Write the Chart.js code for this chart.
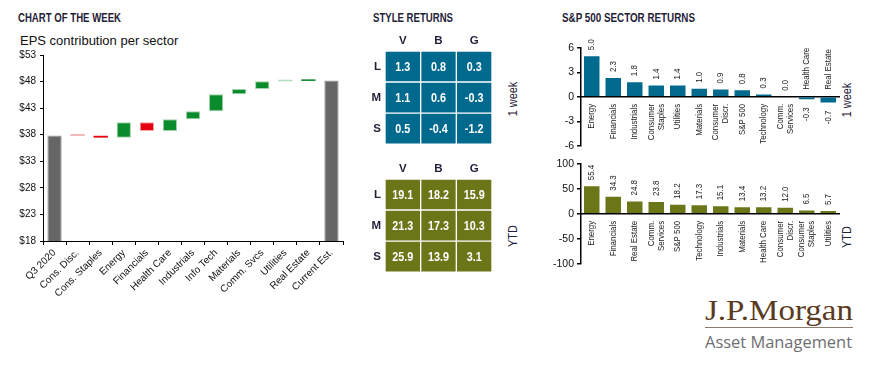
<!DOCTYPE html>
<html><head><meta charset="utf-8">
<script src="https://cdn.jsdelivr.net/npm/chart.js@4.4.1/dist/chart.umd.min.js"></script>
<style>
body{margin:0;width:879px;height:376px;background:#fff;position:relative;overflow:hidden;font-family:'Liberation Sans',Arial,sans-serif}
.abs{position:absolute;white-space:nowrap}
.hdr{font-family:'Liberation Sans',Arial,sans-serif;font-weight:bold;font-size:12px;color:#1f2238;line-height:12px;transform-origin:0 0}
.side{font-family:'Liberation Sans',Arial,sans-serif;font-size:13px;color:#1f2238;transform:translate(-50%,-50%) rotate(-90deg) scaleX(0.84);line-height:14px}
canvas{position:absolute}
</style></head>
<body>
<div id="h1" class="abs hdr" style="left:18px;top:12px">CHART OF THE WEEK</div>
<div class="abs" style="left:20px;top:33px;font-size:13px;color:#111;line-height:15px">EPS contribution per sector</div>
<div id="h2" class="abs hdr" style="left:373px;top:12px">STYLE RETURNS</div>
<div id="h3" class="abs hdr" style="left:562px;top:12px">S&amp;P 500 SECTOR RETURNS</div>
<div class="abs side" style="left:513px;top:99px">1 week</div>
<div class="abs side" style="left:513px;top:236px">YTD</div>
<div class="abs side" style="left:847px;top:100px">1 week</div>
<div class="abs side" style="left:847px;top:237px">YTD</div>
<div id="logo1" class="abs" style="left:705px;top:294px;font-family:'Liberation Serif','DejaVu Serif',serif;font-size:29px;color:#5a3b1e;line-height:32px;transform-origin:0 0">J.P.Morgan</div>
<div class="abs" style="left:705px;top:327px;width:148px;height:1px;background:#8c7b6b"></div>
<div id="logo2" class="abs" style="left:705px;top:332px;font-family:'Open Sans','Liberation Sans',sans-serif;font-size:16px;color:#6d6e71;line-height:20px;transform-origin:0 0">Asset Management</div>

<canvas id="wf" width="350" height="300" style="left:0;top:0"></canvas>
<canvas id="hm1" width="140" height="125" style="left:360px;top:30px"></canvas>
<canvas id="hm2" width="140" height="125" style="left:360px;top:158px"></canvas>
<canvas id="sp1" width="300" height="125" style="left:545px;top:30px"></canvas>
<canvas id="sp2" width="300" height="125" style="left:545px;top:148px"></canvas>

<script>
// ---------------- DATA ----------------
const wfCategories = ['Q3 2020','Cons. Disc.','Cons. Staples','Energy','Financials','Health Care','Industrials','Info Tech','Materials','Comm. Svcs','Utilities','Real Estate','Current Est.'];
const wfStart = 37.85;
const wfDeltas = [-0.05,-0.35,2.9,-1.65,2.2,1.5,3.2,1.0,1.45,0.07,0.1];
const wfEnd = 48.2;
const wfTickMin = 18, wfTickMax = 53, wfTickStep = 5;

const styleCols = ['V','B','G'];
const styleRows = ['L','M','S'];
const weekL = [1.3, 0.8, 0.3];
const weekM = [1.1, 0.6, -0.3];
const weekS = [0.5, -0.4, -1.2];
const ytdL = [19.1, 18.2, 15.9];
const ytdM = [21.3, 17.3, 10.3];
const ytdS = [25.9, 13.9, 3.1];

const weekSectors = ['Energy','Financials','Industrials',['Consumer','Staples'],'Utilities','Materials',['Consumer','Discr.'],'S&P 500','Technology',['Comm.','Services'],'Health Care','Real Estate'];
const weekValues = [5.0, 2.3, 1.8, 1.4, 1.4, 1.0, 0.9, 0.8, 0.3, 0.0, -0.3, -0.7];
const weekTicks = {min:-6, max:6, step:3};
const ytdSectors = ['Energy','Financials','Real Estate',['Comm.','Services'],'S&P 500','Technology','Industrials','Materials','Health Care',['Consumer','Discr.'],['Consumer','Staples'],'Utilities'];
const ytdValues = [55.4, 34.3, 24.8, 23.8, 18.2, 17.3, 15.1, 13.4, 13.2, 12.0, 6.5, 5.7];
const ytdTicks = {min:-100, max:100, step:50};

// ---------------- STYLE ----------------
const FONT = "'Liberation Sans', Arial, sans-serif";
const NARROW_X = 0.83;
const TXT = '#1f2238';
const GRAY = '#666666', GRAY_EDGE = '#999999';
const GREEN = '#0b8c2c', GREEN_EDGE = '#a3d3ac', GREEN_LIGHT = '#b5dcbc';
const RED = '#e40010', RED_EDGE = '#f3a4a4', RED_LIGHT = '#f2a6a6';
const BLUE = '#006a8e', OLIVE = '#6b7619';

Chart.defaults.animation = false;
Chart.defaults.font.family = FONT;
Chart.defaults.color = TXT;
Chart.defaults.plugins.legend.display = false;
Chart.defaults.plugins.tooltip.enabled = false;

// ---------------- WATERFALL ----------------
const wfData = [[0, wfStart]];
const wfFill = [GRAY], wfEdge = [GRAY_EDGE], wfBW = [1];
let level = wfStart;
wfDeltas.forEach(d => {
  wfData.push([level, level + d]);
  level += d;
  const small = Math.abs(d) < 0.1;
  const thin = Math.abs(d) < 0.5;
  wfBW.push(thin ? 0 : 1);
  if (d >= 0) { wfFill.push(small && d < 0.1 && d < 0.08 ? GREEN_LIGHT : GREEN); wfEdge.push(GREEN_EDGE); }
  else { wfFill.push(small ? RED_LIGHT : RED); wfEdge.push(RED_EDGE); }
});
wfData.push([0, wfEnd]); wfFill.push(GRAY); wfEdge.push(GRAY_EDGE); wfBW.push(1);

new Chart(document.getElementById('wf'), {
  type: 'bar',
  data: { labels: wfCategories, datasets: [{ data: wfData, backgroundColor: wfFill, borderColor: wfEdge, borderWidth: wfBW, borderSkipped: false, minBarLength: 1.6, barPercentage: 0.62, categoryPercentage: 1 }] },
  options: {
    responsive: false, devicePixelRatio: 1,
    layout: { padding: { top: 55, right: 7, bottom: 0, left: 0 } },
    scales: {
      x: {
        grid: { drawOnChartArea: false, color: '#000', tickLength: 4, offset: true },
        border: { color: '#000', width: 1 },
        ticks: { minRotation: 45, maxRotation: 45, autoSkip: false, font: { size: 10 }, color: '#111', padding: 2 },
        afterFit: s => { s.height = 59; }
      },
      y: {
        min: wfTickMin, max: wfTickMax,
        grid: { drawOnChartArea: false, color: '#000', tickLength: 3 },
        border: { color: '#000', width: 1 },
        ticks: { stepSize: wfTickStep, font: { size: 10 }, color: '#111', padding: 4, callback: v => '$' + v },
        afterFit: s => { s.width = 43; }
      }
    }
  }
});

// ---------------- HEATMAPS ----------------
function narrowText(ctx, txt, x, y, align, rotate) {
  ctx.save();
  ctx.translate(x, y);
  if (rotate) ctx.rotate(-Math.PI / 2);
  ctx.scale(NARROW_X, 1);
  ctx.textAlign = align;
  ctx.fillText(txt, 0, 0);
  ctx.restore();
}

const cellLabels = {
  id: 'cellLabels',
  afterDatasetsDraw(chart) {
    const ctx = chart.ctx;
    ctx.save();
    ctx.fillStyle = '#fff';
    ctx.font = 'bold 13px ' + FONT;
    ctx.textBaseline = 'middle';
    chart.data.datasets.forEach((ds, i) => {
      chart.getDatasetMeta(i).data.forEach((el, j) => {
        narrowText(ctx, ds.cellValues[j].toFixed(1), el.x, (el.y + el.base) / 2 + 0.5, 'center', false);
      });
    });
    ctx.restore();
  }
};

function heatmap(id, rowsTopDown, color) {
  const bottomUp = styleRows.slice().reverse();
  const valsBottomUp = rowsTopDown.slice().reverse();
  new Chart(document.getElementById(id), {
    type: 'bar',
    data: {
      labels: styleCols,
      datasets: valsBottomUp.map((vals, k) => ({
        label: bottomUp[k], cellValues: vals, data: vals.map(() => 1),
        backgroundColor: color, borderColor: '#fff', borderWidth: 1, borderSkipped: false,
        barPercentage: 1, categoryPercentage: 1
      }))
    },
    options: {
      responsive: false, devicePixelRatio: 1,
      layout: { padding: { top: 0, right: 8, bottom: 5, left: 0 } },
      scales: {
        x: {
          position: 'top', stacked: true,
          grid: { display: false, drawTicks: false }, border: { display: false },
          ticks: { font: { size: 11.5, weight: 'bold' }, color: TXT, padding: 3 },
          afterFit: s => { s.height = 21; }
        },
        y: {
          stacked: true, min: 0, max: styleRows.length,
          grid: { display: false, drawTicks: false }, border: { display: false },
          afterBuildTicks: s => { s.ticks = bottomUp.map((r, k) => ({ value: k + 0.5 })); },
          ticks: { font: { size: 11.5, weight: 'bold' }, color: TXT, padding: 4,
                   callback: v => bottomUp[Math.floor(v)] },
          afterFit: s => { s.width = 25; }
        }
      }
    },
    plugins: [cellLabels]
  });
}
heatmap('hm1', [weekL, weekM, weekS], BLUE);
heatmap('hm2', [ytdL, ytdM, ytdS], OLIVE);

// ---------------- SECTOR BARS ----------------
const sectorLabels = {
  id: 'sectorLabels',
  afterDatasetsDraw(chart) {
    const ctx = chart.ctx, ys = chart.scales.y;
    const y0 = ys.getPixelForValue(0);
    const ds = chart.data.datasets[0];
    ctx.save();
    ctx.fillStyle = '#222';
    ctx.font = '9.5px ' + FONT;
    ctx.textBaseline = 'middle';
    chart.getDatasetMeta(0).data.forEach((el, i) => {
      const v = ds.data[i];
      const lines = [].concat(chart.data.labels[i]);
      const lh = 10;
      lines.forEach((ln, k) => {
        const cx = el.x + (k - (lines.length - 1) / 2) * lh;
        narrowText(ctx, ln, cx, v < 0 ? y0 - 7 : y0 + 7, v < 0 ? 'left' : 'right', true);
      });
      if (v >= 0) narrowText(ctx, v.toFixed(1), el.x, el.y - 6, 'left', true);
      else narrowText(ctx, v.toFixed(1), el.x, el.y + 8, 'right', true);
    });
    ctx.restore();
  }
};

function sectorChart(id, labels, values, tk, color, padTop) {
  new Chart(document.getElementById(id), {
    type: 'bar',
    data: { labels: labels, datasets: [{ data: values, backgroundColor: color, barPercentage: 0.72, categoryPercentage: 1 }] },
    options: {
      responsive: false, devicePixelRatio: 1,
      layout: { padding: { top: padTop, right: 6, bottom: 9, left: 0 } },
      scales: {
        x: {
          position: { y: 0 },
          grid: { display: false }, ticks: { display: false },
          border: { display: true, color: '#000', width: 1.5 }
        },
        y: {
          min: tk.min, max: tk.max,
          grid: { drawOnChartArea: false, color: '#000', tickLength: 4, lineWidth: 1.5 },
          border: { color: '#000', width: 1.5 },
          ticks: { stepSize: tk.step, font: { size: 10.5 }, color: '#111', padding: 3 },
          afterFit: s => { s.width = 36; }
        }
      }
    },
    plugins: [sectorLabels]
  });
}
sectorChart('sp1', weekSectors, weekValues, weekTicks, BLUE, 18);
sectorChart('sp2', ytdSectors, ytdValues, ytdTicks, OLIVE, 16);

// ---------------- TEXT FIT ----------------
function fitWidth(id, w) {
  const el = document.getElementById(id);
  const r = el.getBoundingClientRect();
  el.style.transform = 'scaleX(' + (w / r.width) + ')';
}
fitWidth('logo1', 148);
fitWidth('logo2', 147);
fitWidth('h1', 103);
fitWidth('h2', 80);
fitWidth('h3', 133);
</script>
</body></html>
